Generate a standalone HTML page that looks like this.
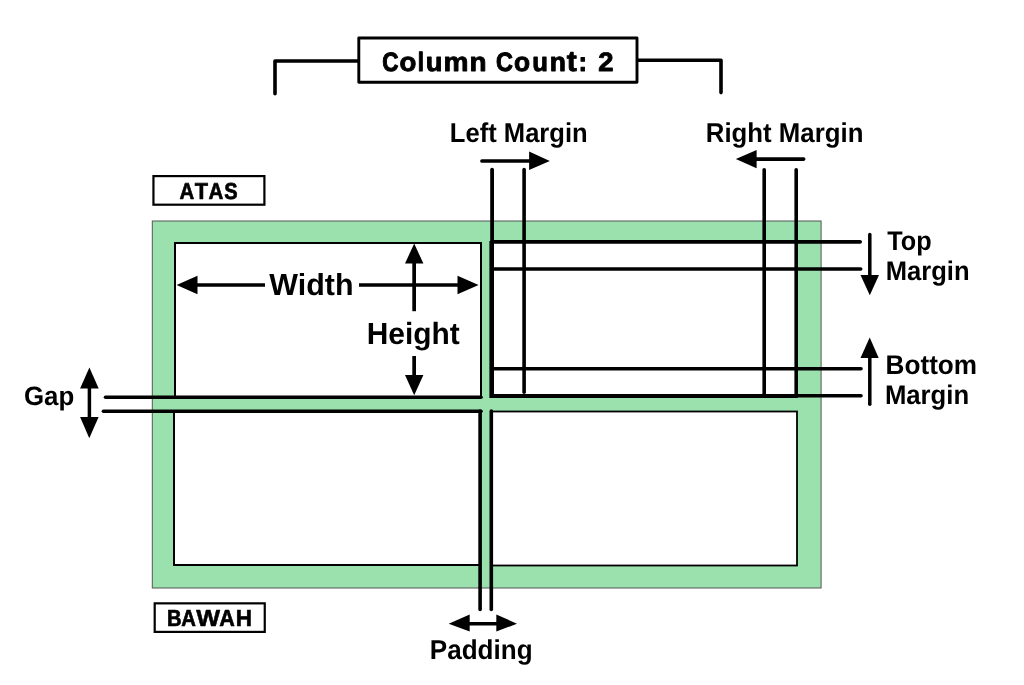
<!DOCTYPE html>
<html><head><meta charset="utf-8">
<style>
html,body{margin:0;padding:0;background:#fff;width:1024px;height:685px;overflow:hidden}
svg{display:block;will-change:transform}
text{font-family:"Liberation Sans",sans-serif;font-weight:bold;fill:#000;text-rendering:geometricPrecision}
</style></head><body>
<svg width="1024" height="685" viewBox="0 0 1024 685">
<rect x="0" y="0" width="1024" height="685" fill="#fff"/>
<g fill="none" stroke="#000" stroke-linecap="round" stroke-linejoin="round">
<path d="M275,93.8 L275,61 L358,61" stroke-width="3.6"/>
<path d="M637,60.2 L721,60.2 L721,92.6" stroke-width="3.6"/>
</g>
<rect x="358.8" y="38" width="278.2" height="44.2" fill="#fff" stroke="#000" stroke-width="2.9" stroke-linejoin="round"/>
<text transform="translate(383.25,71.20) scale(0.845,1.000)" x="-1.09" y="0" font-size="26.6" stroke="#000" stroke-width="1.06" stroke-linejoin="round">C</text>
<text transform="translate(400.45,71.20) scale(1.037,1.000)" x="-1.04" y="0" font-size="26.6" stroke="#000" stroke-width="0.87" stroke-linejoin="round">o</text>
<text transform="translate(419.20,71.20) scale(0.836,1.000)" x="-1.86" y="0" font-size="26.6" stroke="#000" stroke-width="1.08" stroke-linejoin="round">l</text>
<text transform="translate(427.45,71.20) scale(1.028,1.000)" x="-1.65" y="0" font-size="26.6" stroke="#000" stroke-width="0.88" stroke-linejoin="round">u</text>
<text transform="translate(445.45,71.20) scale(1.057,1.000)" x="-1.75" y="0" font-size="26.6" stroke="#000" stroke-width="0.85" stroke-linejoin="round">m</text>
<text transform="translate(471.25,71.20) scale(1.051,1.000)" x="-1.75" y="0" font-size="26.6" stroke="#000" stroke-width="0.86" stroke-linejoin="round">n</text>
<text transform="translate(497.05,71.20) scale(0.880,1.000)" x="-1.09" y="0" font-size="26.6" stroke="#000" stroke-width="1.02" stroke-linejoin="round">C</text>
<text transform="translate(515.05,71.20) scale(0.988,1.000)" x="-1.04" y="0" font-size="26.6" stroke="#000" stroke-width="0.91" stroke-linejoin="round">o</text>
<text transform="translate(533.85,71.20) scale(0.965,1.000)" x="-1.65" y="0" font-size="26.6" stroke="#000" stroke-width="0.93" stroke-linejoin="round">u</text>
<text transform="translate(551.45,71.20) scale(0.996,1.000)" x="-1.75" y="0" font-size="26.6" stroke="#000" stroke-width="0.90" stroke-linejoin="round">n</text>
<text transform="translate(567.05,71.20) scale(1.133,1.090)" x="-0.32" y="0" font-size="26.6" stroke="#000" stroke-width="0.79" stroke-linejoin="round">t</text>
<text transform="translate(580.95,71.20) scale(0.962,1.000)" x="-2.56" y="0" font-size="26.6" stroke="#000" stroke-width="0.94" stroke-linejoin="round">:</text>
<text transform="translate(599.15,71.20) scale(1.031,1.000)" x="-0.92" y="0" font-size="26.6" stroke="#000" stroke-width="0.87" stroke-linejoin="round">2</text>

<text transform="translate(449.84,141.90) scale(0.9839,1.0454)" font-size="26">Left Margin</text>
<line x1="482" y1="161" x2="531" y2="161" stroke="#000" stroke-width="3.7" stroke-linecap="round"/>
<polygon points="529.1,151.6 549.8,161 529.1,170" fill="#000"/>

<text transform="translate(705.77,141.90) scale(0.9925,1.0454)" font-size="26">Right Margin</text>
<line x1="755" y1="159.1" x2="803.7" y2="159.1" stroke="#000" stroke-width="3.6" stroke-linecap="round"/>
<polygon points="756.6,149.9 735.8,159.1 756.6,168.2" fill="#000"/>

<rect x="153.45" y="176.1" width="110.95" height="28.6" fill="#fff" stroke="#000" stroke-width="2.2"/>
<text transform="translate(180.10,199.00) scale(0.888,1.000)" x="-0.57" y="0" font-size="23.0" stroke="#000" stroke-width="0.68" stroke-linejoin="round">A</text>
<text transform="translate(195.10,199.00) scale(0.945,1.000)" x="-0.26" y="0" font-size="23.0" stroke="#000" stroke-width="0.63" stroke-linejoin="round">T</text>
<text transform="translate(209.10,199.00) scale(0.894,1.000)" x="-0.57" y="0" font-size="23.0" stroke="#000" stroke-width="0.67" stroke-linejoin="round">A</text>
<text transform="translate(224.90,199.00) scale(0.871,1.000)" x="-0.66" y="0" font-size="23.0" stroke="#000" stroke-width="0.69" stroke-linejoin="round">S</text>

<rect x="152.3" y="221" width="668.8" height="367" fill="#9ae1ae" stroke="#555" stroke-width="1"/>

<rect x="175" y="243" width="306" height="154" fill="#fff" stroke="#000" stroke-width="2"/>
<rect x="490.4" y="242" width="306.4" height="155" fill="#fff" stroke="#000" stroke-width="2"/>
<rect x="174" y="411" width="306.1" height="154" fill="#fff" stroke="#000" stroke-width="2"/>
<rect x="491" y="411.5" width="306" height="154" fill="#fff" stroke="#000" stroke-width="1.8"/>

<g stroke="#000" stroke-width="3.6" stroke-linecap="round">
<line x1="492.1" y1="169.6" x2="492.1" y2="396" stroke-width="3.8"/>
<line x1="524.1" y1="169.6" x2="524.1" y2="392.3"/>
<line x1="764.2" y1="169.7" x2="764.2" y2="394"/>
<line x1="796.2" y1="169.7" x2="796.2" y2="394"/>
<line x1="492" y1="241.8" x2="860.1" y2="241.8" stroke-width="3.8"/>
<line x1="492" y1="269.05" x2="860.7" y2="269.05"/>
<line x1="492" y1="368.8" x2="861" y2="368.8"/>
<line x1="492" y1="395.8" x2="861" y2="395.8"/>
<line x1="105.5" y1="397.3" x2="481" y2="397.3"/>
<line x1="103.4" y1="411.3" x2="481" y2="411.3"/>
<line x1="480.1" y1="411" x2="480.1" y2="609.5"/>
<line x1="491.3" y1="411" x2="491.3" y2="609.5"/>
</g>

<g stroke="#000" stroke-width="3.7">
<line x1="195" y1="285" x2="265" y2="285"/>
<line x1="359" y1="285" x2="459" y2="285"/>
<line x1="414.15" y1="262" x2="414.15" y2="311.2"/>
<line x1="414.15" y1="356" x2="414.15" y2="377"/>
</g>
<polygon points="197.5,275.8 176.6,285 197.5,294.3" fill="#000"/>
<polygon points="457.5,275.8 478.6,285 457.5,294.3" fill="#000"/>
<text transform="translate(269.27,294.90) scale(1.0147,1.0175)" font-size="30">Width</text>
<polygon points="405,263.6 414.2,243.5 423.4,263.6" fill="#000"/>
<polygon points="405,375.1 414.2,395.3 423.4,375.1" fill="#000"/>
<text transform="translate(366.70,343.85) scale(0.9972,1.0199)" font-size="30">Height</text>

<line x1="869.8" y1="234.4" x2="869.8" y2="277" stroke="#000" stroke-width="3.5" stroke-linecap="round"/>
<polygon points="860.5,275.1 869.8,295.2 879,275.1" fill="#000"/>
<text transform="translate(887.32,249.90) scale(0.9700,1.0398)" font-size="26">Top</text>
<text transform="translate(885.79,280.10) scale(0.9832,1.0398)" font-size="26">Margin</text>

<line x1="869.8" y1="355" x2="869.8" y2="404.3" stroke="#000" stroke-width="3.5" stroke-linecap="round"/>
<polygon points="860.5,358.1 869.7,337.5 878.7,358.1" fill="#000"/>
<text transform="translate(885.55,374.30) scale(1.0060,1.0398)" font-size="26">Bottom</text>
<text transform="translate(884.88,404.30) scale(0.9893,1.0398)" font-size="26">Margin</text>

<line x1="89.4" y1="386" x2="89.4" y2="419" stroke="#000" stroke-width="3.5"/>
<polygon points="80.1,388.4 89.4,367.5 98.7,388.4" fill="#000"/>
<polygon points="80.1,417.1 89.3,438.3 98.6,417.1" fill="#000"/>
<text transform="translate(23.94,405.30) scale(0.9952,1.0230)" font-size="26">Gap</text>

<rect x="154.7" y="603.35" width="110.05" height="28.55" fill="#fff" stroke="#000" stroke-width="2.2"/>
<text transform="translate(168.30,626.30) scale(0.869,1.000)" x="-1.55" y="0" font-size="23.2" stroke="#000" stroke-width="0.69" stroke-linejoin="round">B</text>
<text transform="translate(181.70,626.30) scale(0.874,1.000)" x="-0.58" y="0" font-size="23.2" stroke="#000" stroke-width="0.69" stroke-linejoin="round">A</text>
<text transform="translate(196.30,626.30) scale(1.089,1.000)" x="-0.02" y="0" font-size="23.2" stroke="#000" stroke-width="0.55" stroke-linejoin="round">W</text>
<text transform="translate(219.80,626.30) scale(0.932,1.000)" x="-0.58" y="0" font-size="23.2" stroke="#000" stroke-width="0.64" stroke-linejoin="round">A</text>
<text transform="translate(237.20,626.30) scale(0.968,1.000)" x="-1.55" y="0" font-size="23.2" stroke="#000" stroke-width="0.62" stroke-linejoin="round">H</text>

<line x1="466" y1="623.7" x2="500" y2="623.7" stroke="#000" stroke-width="3.4"/>
<polygon points="469.7,614.5 448.7,623.7 469.7,631.6" fill="#000"/>
<polygon points="496.3,614.5 517,623.7 496.3,631.6" fill="#000"/>
<text transform="translate(429.76,658.50) scale(1.0023,1.0510)" font-size="26">Padding</text>
</svg>
</body></html>
